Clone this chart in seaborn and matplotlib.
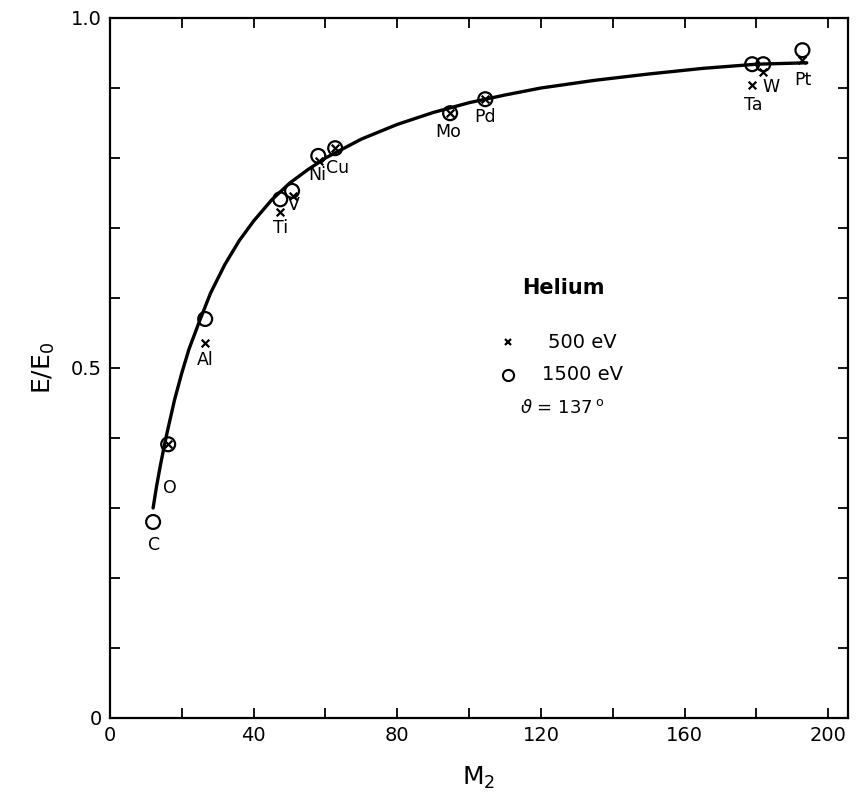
import matplotlib
matplotlib.use("Agg")
import matplotlib.pyplot as plt
import seaborn as sns
import pandas as pd

# kinematic curve
curve_m2 = [12, 13, 14, 15, 16, 18, 20, 22, 25, 28, 32, 36, 40, 45, 50, 55,
            60, 70, 80, 90, 100, 110, 120, 135, 150, 165, 180, 194]
curve_e = [0.300, 0.332, 0.360, 0.386, 0.410, 0.455, 0.493, 0.527, 0.568,
           0.607, 0.648, 0.682, 0.710, 0.740, 0.764, 0.783, 0.800, 0.827,
           0.848, 0.865, 0.879, 0.890, 0.900, 0.911, 0.920, 0.928, 0.934,
           0.936]

# 1500 eV (circles)
el_1500 = ["C", "O", "Al", "Ti", "V", "Ni", "Cu", "Mo", "Pd", "Ta", "W", "Pt"]
m2_1500 = [12.0, 16.2, 26.5, 47.4, 50.7, 58.0, 62.7, 94.7, 104.5, 178.8, 181.9, 192.8]
e_1500 = [0.280, 0.391, 0.570, 0.741, 0.753, 0.803, 0.814, 0.864, 0.884, 0.934, 0.934, 0.954]

# 500 eV (crosses)
el_500 = ["O", "Al", "Ti", "V", "Ni", "Cu", "Mo", "Pd", "Ta", "W", "Pt"]
m2_500 = [16.2, 26.5, 47.4, 51.0, 58.3, 62.7, 94.7, 104.5, 178.8, 181.9, 192.8]
e_500 = [0.391, 0.536, 0.723, 0.745, 0.795, 0.814, 0.864, 0.884, 0.904, 0.923, 0.940]

# element labels
lab_text = ["C", "O", "Al", "Ti", "V", "Ni", "Cu", "Mo", "Pd", "Ta", "W", "Pt"]
lab_x = [12.3, 16.8, 26.5, 47.4, 51.3, 57.7, 63.3, 94.2, 104.5, 179.0, 184.0, 193.0]
lab_y = [0.247, 0.329, 0.511, 0.700, 0.733, 0.776, 0.785, 0.837, 0.859, 0.876, 0.901, 0.911]

curve = pd.DataFrame({"M2": curve_m2, "E": curve_e})
pts_o = pd.DataFrame({"M2": m2_1500, "E": e_1500, "el": el_1500})
pts_x = pd.DataFrame({"M2": m2_500, "E": e_500, "el": el_500})

sns.set_style("ticks")
plt.rcParams["font.family"] = ["DejaVu Sans"]
for k in ["text.color", "axes.labelcolor", "xtick.color", "ytick.color", "axes.edgecolor"]:
    plt.rcParams[k] = "black"

fig = plt.figure(figsize=(8.62, 8.07), dpi=100)
ax = fig.add_axes([0.1276, 0.1103, 0.8562, 0.8674])

sns.lineplot(data=curve, x="M2", y="E", color="black", lw=2.4, ax=ax, sort=False)
sns.scatterplot(data=pts_o, x="M2", y="E", marker="o", s=100, facecolor="none",
                edgecolor="black", linewidth=1.6, ax=ax, zorder=3)
sns.scatterplot(data=pts_x, x="M2", y="E", marker="x", s=30, color="black",
                linewidth=1.6, ax=ax, zorder=3)

for t, x, y in zip(lab_text, lab_x, lab_y):
    ax.text(x, y, t, ha="center", va="center", fontsize=12.5)

# legend block drawn as text
ax.text(114.8, 0.614, "Helium", ha="left", va="center", fontsize=15, fontweight="bold")
ax.plot([110.9], [0.537], marker="x", ms=5, color="black", mew=1.6)
ax.text(122.0, 0.537, "500 eV", ha="left", va="center", fontsize=14)
ax.plot([110.9], [0.490], marker="o", ms=8, mfc="none", mec="black", mew=1.5)
ax.text(120.3, 0.490, "1500 eV", ha="left", va="center", fontsize=14)
ax.text(114.2, 0.443, r"$\vartheta$ = 137$\,^{\mathrm{o}}$", ha="left", va="center", fontsize=13)

ax.set_xlim(0, 205.5)
ax.set_ylim(0, 1.0)
xt = list(range(0, 201, 20))
ax.set_xticks(xt)
ax.set_xticklabels([str(v) if v % 40 == 0 else "" for v in xt])
yt = [i / 10 for i in range(11)]
ax.set_yticks(yt)
ax.set_yticklabels(["0" if i == 0 else ("0.5" if i == 5 else ("1.0" if i == 10 else "")) for i in range(11)])
ax.tick_params(direction="in", length=7, width=1.3, top=True, right=True,
               labelsize=14, pad=6)
for s in ax.spines.values():
    s.set_linewidth(1.6)
    s.set_visible(True)

ax.set_xlabel(r"M$_2$", fontsize=18, labelpad=14)
ax.set_ylabel(r"E/E$_0$", fontsize=18, labelpad=10)

fig.savefig("out.png", dpi=100)
